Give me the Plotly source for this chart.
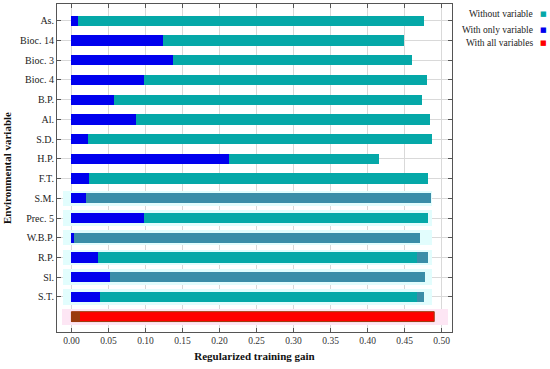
import plotly.graph_objects as go

# Data (top to bottom)
variables = ["As.", "Bioc. 14", "Bioc. 3", "Bioc. 4", "B.P.", "Al.", "S.D.", "H.P.",
             "F.T.", "S.M.", "Prec. 5", "W.B.P.", "R.P.", "Sl.", "S.T."]
without_var = [0.476, 0.449, 0.460, 0.480, 0.474, 0.484, 0.487, 0.416,
               0.482, 0.485, 0.482, 0.471, 0.481, 0.477, 0.476]
with_only = [0.009, 0.124, 0.137, 0.098, 0.057, 0.087, 0.023, 0.213,
             0.024, 0.020, 0.098, 0.003, 0.036, 0.052, 0.039]
all_vars = 0.490
# secondary run shading (steel overlay start) per row; None = none
steel_from = [None, None, None, None, None, None, None, None,
              None, 0.0, None, 0.003, 0.467, 0.0, 0.467]
# light range band (low, high) per row; None = none
band_low = [None] * 9 + [-0.011] * 6
band_high = [None] * 9 + [0.487] * 6
all_band = (-0.013, 0.508)
all_start = 0.011
x_ticks = [0.00, 0.05, 0.10, 0.15, 0.20, 0.25, 0.30, 0.35, 0.40, 0.45, 0.50]

TEAL = "#05a8a8"
STEEL = "#3a8da8"
BLUE = "#0000ee"
RED = "#ff0000"
BROWN = "#9a3a0c"

n = len(variables)
ypos = [n - i for i in range(n)]  # As. at top, all-variables row at 0

fig = go.Figure()

# bands
by = [y for y, b in zip(ypos, band_low) if b is not None]
bl = [b for b in band_low if b is not None]
bh = [h for h in band_high if h is not None]
fig.add_trace(go.Bar(orientation="h", y=by, base=bl, x=[h - l for l, h in zip(bl, bh)],
                     width=0.78, marker=dict(color="#e2fdfd", line=dict(width=0)),
                     showlegend=False, hoverinfo="skip"))
fig.add_trace(go.Bar(orientation="h", y=[0], base=[all_band[0]], x=[all_band[1] - all_band[0]],
                     width=0.8, marker=dict(color="#fde6f4", line=dict(width=0)),
                     showlegend=False, hoverinfo="skip"))

# without variable
fig.add_trace(go.Bar(orientation="h", y=ypos, x=without_var, base=0, width=0.52,
                     marker=dict(color=TEAL, line=dict(width=0)), name="Without variable",
                     showlegend=False))
# steel overlays
sy = [y for y, s in zip(ypos, steel_from) if s is not None]
sb = [s for s in steel_from if s is not None]
sx = [w - s for w, s in zip(without_var, steel_from) if s is not None]
fig.add_trace(go.Bar(orientation="h", y=sy, base=sb, x=sx, width=0.52,
                     marker=dict(color=STEEL, line=dict(width=0)), showlegend=False))
# with only variable
fig.add_trace(go.Bar(orientation="h", y=ypos, x=with_only, base=0, width=0.52,
                     marker=dict(color=BLUE, line=dict(width=0)), name="With only variable",
                     showlegend=False))
# with all variables
fig.add_trace(go.Bar(orientation="h", y=[0], x=[all_vars], base=0, width=0.5,
                     marker=dict(color=RED, line=dict(width=1, color=BROWN)),
                     name="With all variables", showlegend=False))
fig.add_trace(go.Bar(orientation="h", y=[0], x=[all_start], base=0, width=0.5,
                     marker=dict(color=BROWN, line=dict(width=0)), showlegend=False))

serif = "Liberation Serif"
fig.update_layout(
    barmode="overlay",
    width=550, height=369,
    margin=dict(l=57, r=98, t=4, b=37, autoexpand=False),
    plot_bgcolor="white", paper_bgcolor="white",
    font=dict(family=serif, size=10, color="#222"),
    showlegend=False,
    hovermode=False,
    bargap=0,
)
fig.update_xaxes(
    range=[-0.0195, 0.514], tickvals=x_ticks, ticktext=[f"{v:.2f}" for v in x_ticks],
    showgrid=True, gridcolor="#d9d9d9", gridwidth=1, zeroline=False,
    showline=True, linecolor="#555", linewidth=1, mirror="ticks",
    ticks="inside", ticklen=4, tickcolor="#555", automargin=False,
    tickfont=dict(family=serif, size=9.5, color="#333"),
    title=dict(text="<b>Regularized training gain</b>", font=dict(family=serif, size=11, color="#111"),
               standoff=6),
)
fig.update_yaxes(
    range=[-0.78, n + 0.85], tickvals=ypos, ticktext=variables,
    showgrid=True, gridcolor="#d9d9d9", gridwidth=1, zeroline=False,
    showline=True, linecolor="#555", linewidth=1, mirror="ticks",
    ticks="inside", ticklen=4, tickcolor="#555", automargin=False,
    tickfont=dict(family=serif, size=10, color="#222"),
    title=dict(text="<b>Environmental variable</b>", font=dict(family=serif, size=11, color="#111"),
               standoff=6),
)

legend_items = [("Without variable", TEAL, 0.970), ("With only variable", BLUE, 0.921),
                ("With all variables", RED, 0.881)]
for label, col, yy in legend_items:
    fig.add_annotation(xref="paper", yref="paper", x=1.211, y=yy, text=label, showarrow=False,
                       xanchor="right", yanchor="middle",
                       font=dict(family=serif, size=9.5, color="#222"))
    fig.add_annotation(xref="paper", yref="paper", x=1.232, y=yy, text="■", showarrow=False,
                       xanchor="center", yanchor="middle",
                       font=dict(family="DejaVu Sans", size=7, color=col))

fig.write_html("out.html", config={"displayModeBar": False, "staticPlot": True},
               post_script="document.body.style.margin='0';")
